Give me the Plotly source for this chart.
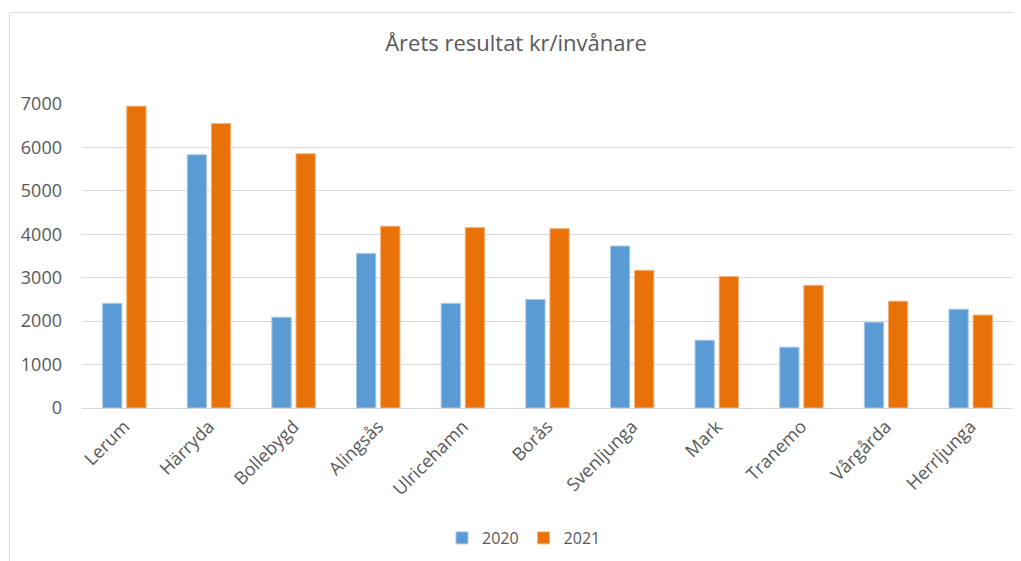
import plotly.graph_objects as go

categories = ["Lerum", "Härryda", "Bollebygd", "Alingsås", "Ulricehamn", "Borås",
              "Svenljunga", "Mark", "Tranemo", "Vårgårda", "Herrljunga"]
values_2020 = [2410, 5830, 2090, 3560, 2410, 2500, 3730, 1560, 1400, 1975, 2275]
values_2021 = [6950, 6550, 5855, 4185, 4155, 4130, 3170, 3030, 2825, 2460, 2140]
y_ticks = [0, 1000, 2000, 3000, 4000, 5000, 6000, 7000]

OFF = 8  # page body margin
W, H = 1021 - OFF, 561 - OFF
# plot area in page pixels: x 82..1013, y 104..408
L = 82 - OFF
T = 104 - OFF
R = W - (1013 - OFF)
B = H - (408 - OFF)
PW, PH = W - L - R, H - T - B

def px_x(p):
    return (p - OFF - L) / PW

def px_y(p):
    return (H - B - (p - OFF)) / PH

FONT = "Open Sans"
GRAY = "#595959"

fig = go.Figure()
fig.add_trace(go.Bar(name="2020", x=categories, y=values_2020,
                     marker=dict(color="#5B9BD5", line=dict(color="#A9C9EA", width=1))))
fig.add_trace(go.Bar(name="2021", x=categories, y=values_2021,
                     marker=dict(color="#E97208", line=dict(color="#F4B27A", width=1))))

fig.update_layout(
    width=W, height=H,
    margin=dict(l=L, r=R, t=T, b=B, autoexpand=False),
    paper_bgcolor="white", plot_bgcolor="white",
    barmode="group", bargap=0.43, bargroupgap=0.2,
    font=dict(family=FONT, color=GRAY, size=18),
    title=dict(text="Årets resultat kr/invånare", x=(516 - OFF) / W, xanchor="center",
               xref="container", y=1 - (43 - OFF) / H, yanchor="middle",
               font=dict(family=FONT, size=22, color=GRAY)),
    legend=dict(orientation="h", x=px_x(524), xanchor="center", y=px_y(538), yanchor="middle",
                font=dict(family=FONT, size=16, color=GRAY), itemwidth=30),
    showlegend=True,
)
fig.update_xaxes(tickangle=-45, showgrid=False, showline=True, linecolor="#D9D9D9",
                 linewidth=1, ticks="", tickfont=dict(size=18, color=GRAY))
fig.update_yaxes(range=[0, 7000], tickvals=y_ticks, showgrid=True, gridcolor="#D9D9D9",
                 gridwidth=1, zeroline=False, showline=False, ticks="",
                 tickfont=dict(size=18, color=GRAY), ticklabelstandoff=19)

fig.add_shape(type="rect", xref="paper", yref="paper",
              x0=px_x(9.5), x1=px_x(1040), y0=px_y(600), y1=px_y(12.5),
              line=dict(color="#D9D9D9", width=1), fillcolor="rgba(0,0,0,0)", layer="below")

fig.write_html("out.html")
